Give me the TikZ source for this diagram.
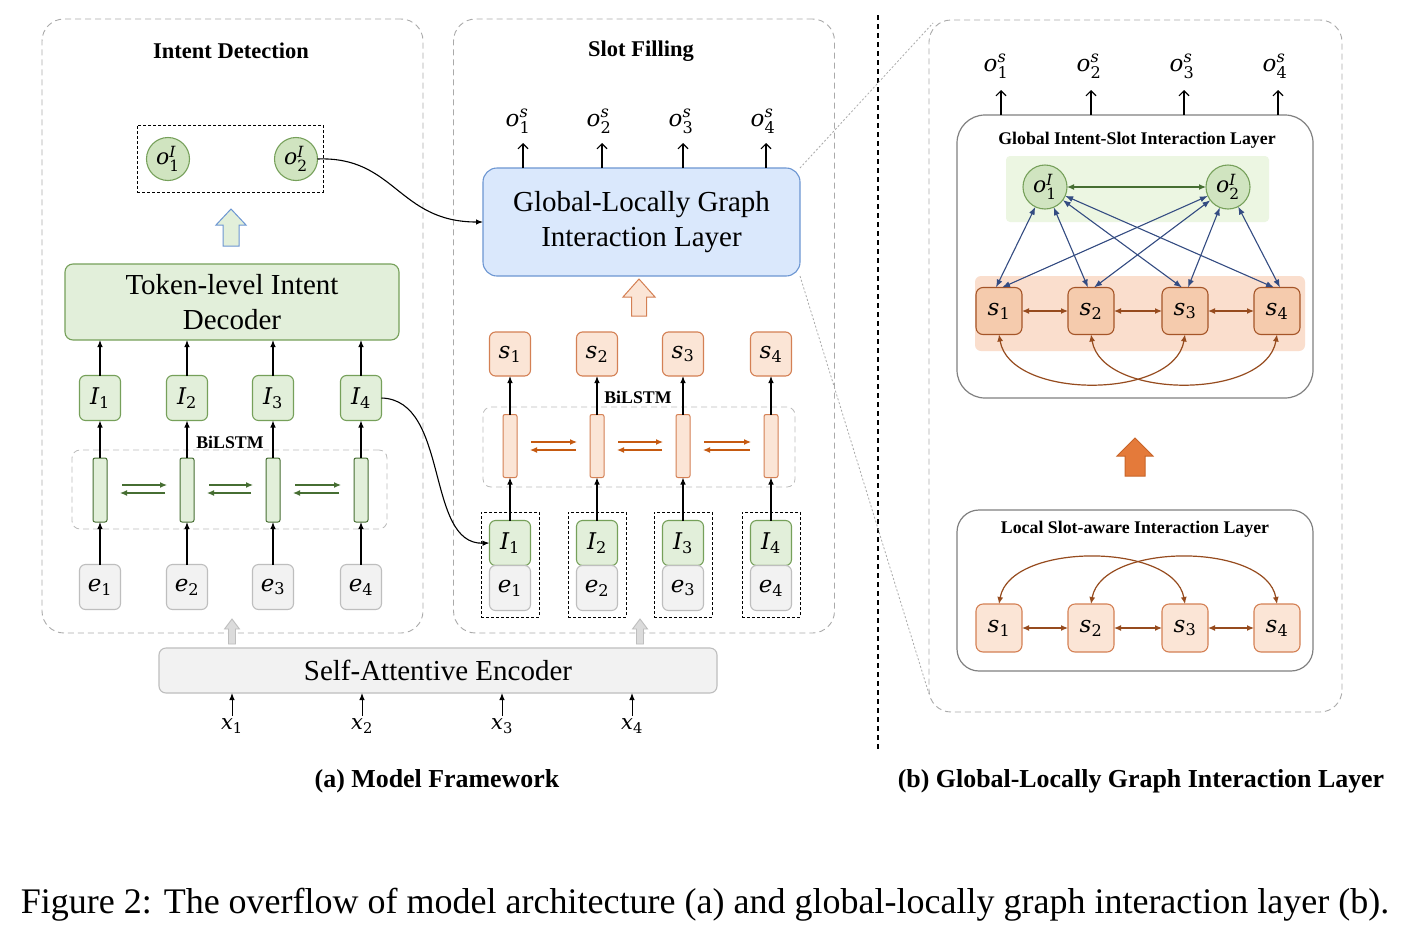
\documentclass[tikz,border=0pt]{standalone}
\usepackage{amsmath}
\usepackage{fontspec}
\setmainfont{Liberation Serif}
\newfontfamily\dvsfam{DejaVu Serif}
\newcommand\lv[1]{\text{\dvsfam\itshape #1}}
\newcommand\ld[1]{\text{\dvsfam #1}}
\usetikzlibrary{arrows.meta,calc}
\definecolor{gfill}{RGB}{226,239,218}
\definecolor{gline}{RGB}{118,160,90}
\definecolor{gdark}{RGB}{70,110,50}
\definecolor{cfill}{RGB}{208,228,192}
\definecolor{efill}{RGB}{242,242,242}
\definecolor{eline}{RGB}{190,190,190}
\definecolor{bfill}{RGB}{218,232,252}
\definecolor{bline}{RGB}{108,150,210}
\definecolor{ofill}{RGB}{251,229,214}
\definecolor{oline}{RGB}{212,128,84}
\definecolor{oarrc}{RGB}{197,90,17}
\definecolor{brn}{RGB}{150,75,30}
\definecolor{sgfill}{RGB}{245,203,173}
\definecolor{sgline}{RGB}{165,85,40}
\definecolor{bandg}{RGB}{236,246,226}
\definecolor{bando}{RGB}{250,222,205}
\definecolor{navy}{RGB}{52,76,130}
\definecolor{pgray}{RGB}{170,170,170}
\definecolor{sorange}{RGB}{228,122,58}
\definecolor{sorline}{RGB}{200,100,40}
\definecolor{lgray}{RGB}{128,128,128}
\newcommand\blkarr[7]{\draw[#7] (#1,#2) -- (#1+#4/2,#2+#6) -- (#1+#5/2,#2+#6) -- (#1+#5/2,#3) -- (#1-#5/2,#3) -- (#1-#5/2,#2+#6) -- (#1-#4/2,#2+#6) -- cycle;}
\begin{document}
\begin{tikzpicture}[x=1pt,y=-1pt,
  every node/.style={inner sep=0pt,outer sep=0pt},
  panel/.style={draw=pgray,dash pattern=on 6pt off 4pt,line width=0.9pt,rounded corners=22pt},
  lstmbox/.style={draw=pgray!80,dash pattern=on 6pt off 4pt,line width=0.8pt,rounded corners=8pt},
  blackdash/.style={draw=black,dash pattern=on 3pt off 2pt,line width=1pt},
  mathlbl/.style={font=\fontsize{23}{27}\selectfont},
  gbox/.style={draw=gline,fill=gfill,rounded corners=6pt,minimum width=41pt,minimum height=45pt,line width=1.1pt,mathlbl},
  ebox/.style={draw=eline,fill=efill,rounded corners=6pt,minimum width=41pt,minimum height=45pt,line width=1.1pt,mathlbl},
  obox/.style={draw=oline,fill=ofill,rounded corners=6pt,minimum width=41pt,minimum height=44pt,line width=1.1pt,mathlbl},
  sgbox/.style={draw=sgline,fill=sgfill,rounded corners=7pt,minimum width=46pt,minimum height=47pt,line width=1.1pt,mathlbl},
  slbox/.style={draw=oline,fill=ofill,rounded corners=7pt,minimum width=46pt,minimum height=48pt,line width=1.1pt,mathlbl},
  gcell/.style={draw=gdark,fill=gfill,rounded corners=2pt,minimum width=14pt,minimum height=64pt,line width=1pt},
  ocell/.style={draw=oline,fill=ofill,rounded corners=2pt,minimum width=14pt,minimum height=63pt,line width=1pt},
  gcirc/.style={circle,draw=gline,fill=cfill,minimum size=43pt,line width=1.1pt,font=\fontsize{22}{26}\selectfont},
  bigtext/.style={font=\fontsize{29}{35}\selectfont,align=center},
  title/.style={font=\bfseries\fontsize{22.5}{26}\selectfont},
  smalltitle/.style={font=\bfseries\fontsize{17.8}{21}\selectfont},
  arr/.style={-{Latex[length=7pt,width=5.5pt]},line width=1.1pt,black},
  openarr/.style={-{Straight Barb[length=5pt,width=10pt]},line width=1.1pt,black},
  garr/.style={-{Latex[length=7pt,width=6pt]},line width=1.2pt,gdark},
  oarr/.style={-{Latex[length=7pt,width=6pt]},line width=1.2pt,oarrc},
  brarr/.style={{Latex[length=7pt,width=6pt]}-{Latex[length=7pt,width=6pt]},line width=1.2pt,brn},
  narr/.style={{Latex[length=8pt,width=6pt]}-{Latex[length=8pt,width=6pt]},line width=1.1pt,navy},
  gdarr/.style={{Latex[length=7pt,width=6pt]}-{Latex[length=7pt,width=6pt]},line width=1.2pt,gdark},
  zoomline/.style={draw=pgray,dash pattern=on 2pt off 2pt,line width=0.8pt},
  outlbl/.style={font=\fontsize{23}{27}\selectfont}
]
\useasboundingbox (0,0) rectangle (1416,932);
\fill[white] (0,0) rectangle (1416,932);

% ---------------- panels
\node[panel,minimum width=381pt,minimum height=614pt] (lp) at (232.5,326) {};
\node[panel,minimum width=381pt,minimum height=614pt] (mp) at (644,326) {};
\node[panel,minimum width=413pt,minimum height=692pt] (rp) at (1135.5,366) {};
\node[title] (tid) at (231,51) {Intent Detection};
\node[title] (tsf) at (641,51) {Slot Filling};

% ---------------- left: intent detection
\node[blackdash,minimum width=186pt,minimum height=67pt] (oIbox) at (230,158.5) {};
\node[gcirc] (oI1) at (168,159) {$\lv{o}^{\lv{I}}_{\ld{1}}$};
\node[gcirc] (oI2) at (296,159) {$\lv{o}^{\lv{I}}_{\ld{2}}$};
\blkarr{231}{209}{246}{30}{16}{16}{draw=bline,fill=gfill,line width=1pt}
\node[draw=gline,fill=gfill,rounded corners=8pt,minimum width=334pt,minimum height=76pt,line width=1.1pt,bigtext] (dec) at (232,302) {Token-level Intent\\Decoder};
\node[lstmbox,minimum width=315pt,minimum height=79pt] (bl1) at (229.5,489.5) {};
\node[smalltitle] (bl1t) at (230,442) {BiLSTM};
\foreach \i/\x in {1/100,2/187,3/273,4/361}{
  \node[gbox] (I\i) at (\x,398) {$\lv{I}_{\ld{\i}}$};
  \node[gcell] (c\i) at (\x,490) {};
  \node[ebox] (e\i) at (\x,587) {$\lv{e}_{\ld{\i}}$};
  \draw[arr] (e\i) -- (c\i);
  \draw[arr] (c\i) -- (I\i);
  \draw[arr] (I\i) -- (I\i |- dec.south);
}
\foreach \a/\b in {1/2,2/3,3/4}{
  \draw[garr,shorten <=15pt,shorten >=13pt] ([yshift=5pt]c\a.east) -- ([yshift=5pt]c\b.west);
  \draw[garr,shorten <=15pt,shorten >=13pt] ([yshift=-3pt]c\b.west) -- ([yshift=-3pt]c\a.east);
}

% ---------------- middle: slot filling
\node[draw=bline,fill=bfill,rounded corners=14pt,minimum width=317pt,minimum height=108pt,line width=1.1pt,bigtext] (gl) at (641.5,222) {Global-Locally Graph\\Interaction Layer};
\blkarr{639}{279}{316}{32}{15}{18}{draw=oline,fill=ofill,line width=1pt}
\node[lstmbox,minimum width=312pt,minimum height=80pt] (bl2) at (639,447) {};
\node[smalltitle] (bl2t) at (638,397) {BiLSTM};
\foreach \i/\x/\tx/\lx in {1/510/523/518,2/597/602/599,3/683/683/681,4/771/766/763}{
  \node[obox] (s\i) at (\x,354) {$\lv{s}_{\ld{\i}}$};
  \node[ocell] (m\i) at (\x,446) {};
  \node[blackdash,minimum width=58pt,minimum height=105pt] (pb\i) at (\x,564.5) {};
  \node[gbox] (J\i) at (\x,543) {$\lv{I}_{\ld{\i}}$};
  \node[ebox] (f\i) at (\x,588) {$\lv{e}_{\ld{\i}}$};
  \draw[arr] (J\i) -- (m\i);
  \draw[arr] (m\i) -- (s\i);
  \coordinate (ta\i) at (\tx,143);
  \draw[openarr] (gl.north -| ta\i) -- (ta\i);
  \node[outlbl] (os\i) at (\lx,121) {$\lv{o}^{\lv{s}}_{\ld{\i}}$};
}
\foreach \a/\b in {1/2,2/3,3/4}{
  \draw[oarr,shorten <=14pt,shorten >=13pt] ([yshift=4pt]m\a.east) -- ([yshift=4pt]m\b.west);
  \draw[oarr,shorten <=14pt,shorten >=13pt] ([yshift=-4pt]m\b.west) -- ([yshift=-4pt]m\a.east);
}

% curved connectors
\draw[arr] (oI2.east) .. controls (395,156) and (398,222) .. (gl.west);
\draw[arr] (I4.east) .. controls (450,400) and (425,545) .. (J1.west);

% ---------------- encoder
\node[draw=eline,fill=efill,rounded corners=7pt,minimum width=558pt,minimum height=45pt,line width=1.1pt,font=\fontsize{29}{35}\selectfont] (enc) at (438,670.5) {Self-Attentive Encoder};
\foreach \i/\x in {1/232,2/362,3/502,4/632}{
  \node[font=\fontsize{21}{25}\selectfont] (x\i) at (\x,726) {$\lv{x}_{\ld{\i}}$};
  \draw[arr,shorten <=3pt,line width=1pt] (x\i.north) -- (x\i |- enc.south);
}
\blkarr{232}{619}{644}{15}{7}{10}{draw=eline,fill=efill!80!gray,line width=0.9pt}
\blkarr{640}{619}{644}{15}{7}{10}{draw=eline,fill=efill!80!gray,line width=0.9pt}

% ---------------- divider
\coordinate (dvt) at (878,15);
\coordinate (dvb) at (878,750);
\draw[black,dash pattern=on 5pt off 4pt,line width=1.5pt] (dvt) -- (dvb);

% ---------------- right panel: global layer
\node[draw=lgray,fill=white,rounded corners=28pt,minimum width=356pt,minimum height=283pt,line width=1.2pt] (glob) at (1135,256.5) {};
\node[smalltitle] (globt) at (1137,140) {Global Intent-Slot Interaction Layer};
\fill[bandg,rounded corners=4pt] (1006,156) rectangle (1269,222);
\fill[bando,rounded corners=6pt] (975,276) rectangle (1305,351);
\node[gcirc,minimum size=44pt] (go1) at (1045,187) {$\lv{o}^{\lv{I}}_{\ld{1}}$};
\node[gcirc,minimum size=44pt] (go2) at (1228,187) {$\lv{o}^{\lv{I}}_{\ld{2}}$};
\foreach \i/\x/\tx/\lx in {1/999/1001/996,2/1091/1091/1089,3/1185/1184/1182,4/1277/1278/1275}{
  \node[sgbox] (g\i) at (\x,311) {$\lv{s}_{\ld{\i}}$};
  \coordinate (tb\i) at (\tx,90);
  \draw[openarr] (glob.north -| tb\i) -- (tb\i);
  \node[outlbl] (ps\i) at (\lx,66) {$\lv{o}^{\lv{s}}_{\ld{\i}}$};
}
\draw[gdarr] (go1) -- (go2);
\foreach \i in {1,2,3,4}{
  \draw[narr] (go1) -- ([xshift=-3pt]g\i.north);
  \draw[narr] (go2) -- ([xshift=3pt]g\i.north);
}
\draw[brarr] (g1) -- (g2);
\draw[brarr] (g2) -- (g3);
\draw[brarr] (g3) -- (g4);
\draw[brarr] (g1.south) .. controls (1010,400) and (1174,400) .. (g3.south);
\draw[brarr] (g2.south) .. controls (1102,400) and (1266,400) .. (g4.south);

% orange solid arrow
\blkarr{1135}{438}{476}{36}{20}{18}{draw=sorline,fill=sorange,line width=1pt}

% ---------------- right panel: local layer
\node[draw=lgray,fill=white,rounded corners=22pt,minimum width=356pt,minimum height=161pt,line width=1.2pt] (loc) at (1135,590.5) {};
\node[smalltitle] (loct) at (1135,529) {Local Slot-aware Interaction Layer};
\foreach \i/\x in {1/999,2/1091,3/1185,4/1277}{
  \node[slbox] (l\i) at (\x,628) {$\lv{s}_{\ld{\i}}$};
}
\draw[brarr] (l1) -- (l2);
\draw[brarr] (l2) -- (l3);
\draw[brarr] (l3) -- (l4);
\draw[brarr] (l1.north) .. controls (1010,542) and (1174,542) .. (l3.north);
\draw[brarr] (l2.north) .. controls (1102,542) and (1266,542) .. (l4.north);

% ---------------- zoom lines
\draw[zoomline] (gl.north east) -- ([shift={(4pt,-3pt)}]rp.north west);
\draw[zoomline] (gl.south east) -- ([yshift=18pt]rp.south west);

% ---------------- captions
\node[font=\bfseries\fontsize{25.9}{30}\selectfont] (capa) at (437,781) {(a) Model Framework};
\node[font=\bfseries\fontsize{25.9}{30}\selectfont] (capb) at (1141,781) {(b) Global-Locally Graph Interaction Layer};
\node[font=\fontsize{36}{42}\selectfont] (fig) at (705,905) {Figure 2: The overflow of model architecture (a) and global-locally graph interaction layer (b).};
\end{tikzpicture}
\end{document}
